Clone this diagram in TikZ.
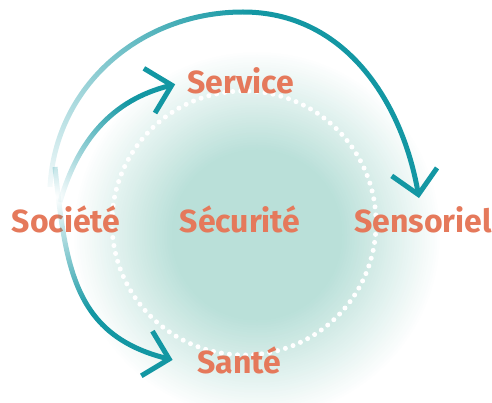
\documentclass[tikz,border=0pt]{standalone}
\usepackage{fontspec}
\setmainfont{Fira Sans}
\usetikzlibrary{arrows.meta,fadings}
\definecolor{arrowteal}{RGB}{19,151,163}
\definecolor{labelcoral}{RGB}{229,121,91}
\definecolor{blobteal}{RGB}{186,224,217}
\begin{tikzfadingfrompicture}[name=fromsoc]
  \fill[transparent!0] (-600pt,-600pt) rectangle (600pt,600pt);
  \shade[inner color=transparent!100,outer color=transparent!0] (0pt,0pt) circle[radius=120pt];
\end{tikzfadingfrompicture}
\begin{tikzfadingfrompicture}[name=fromsocwide]
  \fill[transparent!0] (-900pt,-900pt) rectangle (900pt,900pt);
  \shade[inner color=transparent!100,outer color=transparent!0] (0pt,0pt) circle[radius=270pt];
\end{tikzfadingfrompicture}
\begin{document}
\begin{tikzpicture}
  [x=1pt,y=1pt,
   word/.style={text=labelcoral,font=\fontsize{32}{36}\selectfont\bfseries,
                inner sep=0,outer sep=0,anchor=base},
   dotring/.style={circle,draw=white,line width=5pt,line cap=round,
                   dash pattern=on 0pt off 8.1pt,minimum size=264pt,inner sep=0},
   sweep/.style={draw=arrowteal,line width=5pt,
                 -{Straight Barb[length=23pt,width=46pt]},
                 fit fading=false,fading transform={shift={(55,205)}}}]
  \useasboundingbox (0,0) rectangle (492,402);
  \coordinate (blob) at (257,167);
  \foreach \i in {0,...,40}
    \fill[blobteal!\the\numexpr 5*\i/2\relax!white] (blob) circle[radius=185-2.5*\i];
  \node[dotring] (ring) at (244,179) {};
  \node[word] (secu) at (240,170) {Sécurité};
  \node[word] (soc) at (66,170) {Société};
  \node[word] (sens) at (423,170) {Sensoriel};
  \node[word] (serv) at (240.5,308) {Service};
  \node[word] (sante) at (239.5,29) {Santé};
  \coordinate (socserv) at (60,200);
  \coordinate (socsante) at (55,235);
  \coordinate (socsens) at (50,215);
  \coordinate (arctop) at (243,390);
  \draw[sweep,path fading=fromsoc] (socserv) to[out=74,in=194] ([xshift=-12pt,yshift=-3pt]serv.west);
  \draw[sweep,path fading=fromsoc] (socsante) to[out=-84,in=166,looseness=1.15] ([xshift=-25pt]sante.west);
  \draw[sweep,path fading=fromsocwide] (socsens) to[out=87,in=180] (arctop)
    to[out=0,in=100] ([xshift=-4pt,yshift=8pt]sens.north);
\end{tikzpicture}
\end{document}
